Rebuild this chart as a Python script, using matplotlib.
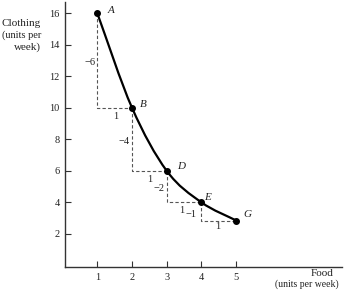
import numpy as np
import matplotlib
matplotlib.use("Agg")
import matplotlib.pyplot as plt
from matplotlib.path import Path
from matplotlib.patches import PathPatch

# Data
point_names = ["A", "B", "D", "E", "G"]
food = [1, 2, 3, 4, 5]
clothing = [16, 10, 6, 4, 2.85]
change_food = ["1", "1", "1", "1"]
change_clothing = ["\u22126", "\u22124", "\u22122", "\u22121"]
x_ticks = [1, 2, 3, 4, 5]
y_ticks = [2, 4, 6, 8, 10, 12, 14, 16]

serif = ["Liberation Serif", "DejaVu Serif"]
plt.rcParams["font.family"] = serif

fig = plt.figure(figsize=(3.48, 2.96), dpi=100)
ax = fig.add_axes([0.187, 0.098, 0.796, 0.894])
ax.set_xlim(0.07, 8.05)
ax.set_ylim(-0.1, 16.7)

for s in ["top", "right"]:
    ax.spines[s].set_visible(False)
for s in ["left", "bottom"]:
    ax.spines[s].set_linewidth(1.0)
    ax.spines[s].set_color("#333333")

ax.set_xticks(x_ticks)
ax.set_yticks(y_ticks)
ax.tick_params(direction="in", length=4, width=0.8, labelsize=7.5, colors="#333333", pad=4)
for lab in ax.get_xticklabels() + ax.get_yticklabels():
    lab.set_color("#222222")

# Smooth curve through points (Catmull-Rom -> cubic Bezier path)
pts = np.column_stack([food, clothing]).astype(float)
n = len(pts)
verts = [tuple(pts[0])]
codes = [Path.MOVETO]
for i in range(n - 1):
    p0 = pts[i - 1] if i > 0 else pts[i] - (pts[i + 1] - pts[i]) * 0.6
    p1 = pts[i]
    p2 = pts[i + 1]
    p3 = pts[i + 2] if i + 2 < n else pts[i + 1] + (pts[i + 1] - pts[i]) * 0.5
    c1 = p1 + (p2 - p0) / 6.0
    c2 = p2 - (p3 - p1) / 6.0
    verts += [tuple(c1), tuple(c2), tuple(p2)]
    codes += [Path.CURVE4, Path.CURVE4, Path.CURVE4]
ax.add_patch(PathPatch(Path(verts, codes), fill=False, lw=1.6, color="black", zorder=3))

ax.plot(food, clothing, "o", color="black", ms=4, zorder=4)

# Dashed steps
for i in range(n - 1):
    ax.plot([food[i], food[i], food[i + 1]], [clothing[i], clothing[i + 1], clothing[i + 1]],
            ls=(0, (3, 2)), lw=0.8, color="#555555", zorder=2)

# Step labels
dc_pos = [(0.80, 12.9), (1.78, 7.84), (2.78, 4.89), (3.70, 3.21)]
df_pos = [(1.52, 9.45), (2.51, 5.45), (3.43, 3.5), (4.48, 2.45)]
for (x, y), t in zip(dc_pos, change_clothing):
    ax.text(x, y, t, fontsize=7.5, ha="center", va="center", color="#222222")
for (x, y), t in zip(df_pos, change_food):
    ax.text(x, y, t, fontsize=7.5, ha="center", va="center", color="#222222")

# Point labels
name_pos = [(1.38, 16.16), (2.33, 10.2), (3.41, 6.25), (4.16, 4.29), (5.32, 3.21)]
for (x, y), t in zip(name_pos, point_names):
    ax.text(x, y, t, fontsize=8, style="italic", ha="center", va="center", color="#222222")

# Axis titles
fig.text(41 / 348, 1 - 24 / 296, "Clothing", fontsize=8, ha="right", va="center", color="#222222")
fig.text(41 / 348, 1 - 35 / 296, "(units per", fontsize=7.5, ha="right", va="center", color="#222222")
fig.text(41 / 348, 1 - 47 / 296, "week)", fontsize=8, ha="right", va="center", color="#222222")
fig.text(334 / 348, 1 - 273 / 296, "Food", fontsize=8, ha="right", va="center", color="#222222")
fig.text(339 / 348, 1 - 284 / 296, "(units per week)", fontsize=7, ha="right", va="center", color="#222222")

fig.savefig("out.png", dpi=100)
